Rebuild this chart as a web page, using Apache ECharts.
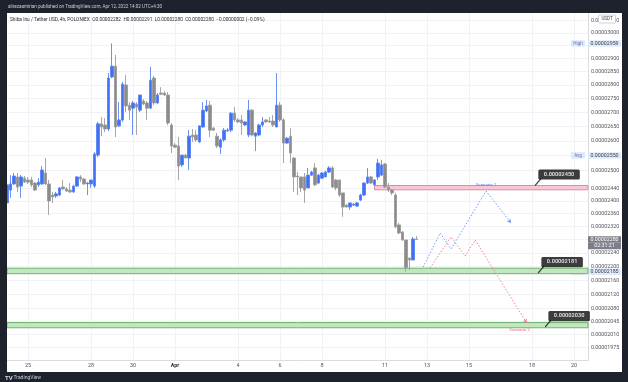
<!DOCTYPE html>
<html><head><meta charset="utf-8">
<script src="https://cdn.jsdelivr.net/npm/echarts@6/dist/echarts.min.js"></script>
<style>html,body{margin:0;padding:0;background:#1e222d;}#c{width:628px;height:382px;}</style>
</head><body><div id="c"></div>
<script>
// ---- DATA (prices in units of 1e-8 USDT, i.e. 2394 = 0.00002394) ----
const UNIT = 1e-8;
const START = '2022-03-24 00:00';   // first 4h bar
const BAR_HOURS = 4;
const opens = [
2394,2435,2455,2478,2448,2474,2468,2468,2458,2452,
2455,2491,2455,2419,2416,2419,2445,2439,2435,2429,
2448,2478,2471,2455,2455,2448,2551,2659,2655,2641,
2830,2871,2652,2673,2800,2726,2715,2730,2708,2741,
2734,2715,2826,2734,2770,2770,2763,2655,2585,2582,
2518,2551,2541,2620,2620,2596,2648,2705,2726,2644,
2616,2578,2603,2634,2637,2697,2673,2673,2655,2620,
2708,2616,2620,2655,2673,2669,2669,2648,2726,2673,
2592,2616,2541,2481,2478,2478,2442,2484,2508,2458,
2474,2478,2494,2508,2468,2468,2426,2387,2381,2387,
2384,2403,2419,2458,2478,2452,2478,2484,2521,2445,
2435,2419,2325,2303,2279,2225,2219,2282];
const closes = [
2452,2455,2481,2445,2478,2461,2461,2452,2435,2461,
2501,2455,2400,2413,2423,2442,2439,2432,2429,2448,
2478,2471,2455,2458,2468,2555,2659,2648,2641,2826,
2871,2648,2673,2803,2723,2708,2734,2719,2763,2730,
2715,2818,2734,2763,2766,2763,2662,2582,2578,2514,
2551,2541,2616,2613,2603,2652,2708,2723,2637,2637,
2582,2603,2637,2637,2697,2673,2666,2662,2666,2708,
2620,2627,2655,2666,2666,2666,2655,2726,2673,2592,
2609,2558,2478,2478,2442,2435,2484,2494,2452,2484,
2491,2494,2508,2445,2442,2419,2381,2381,2394,2390,
2394,2419,2458,2478,2458,2468,2524,2518,2445,2435,
2426,2319,2300,2279,2196,2219,2282,2280];
const lows = [
2394,2410,2452,2429,2410,2458,2455,2445,2432,2445,
2452,2452,2356,2394,2410,2416,2435,2429,2426,2426,
2445,2461,2452,2419,2442,2442,2544,2616,2630,2634,
2826,2613,2648,2666,2701,2673,2620,2620,2701,2726,
2673,2715,2726,2730,2763,2759,2655,2558,2575,2468,
2511,2541,2501,2596,2596,2592,2644,2701,2613,2634,
2575,2555,2596,2630,2630,2666,2662,2620,2652,2613,
2616,2565,2616,2648,2662,2662,2648,2648,2666,2524,
2589,2524,2429,2419,2429,2394,2442,2481,2448,2455,
2471,2478,2491,2442,2435,2413,2350,2378,2372,2384,
2381,2400,2416,2455,2455,2448,2468,2481,2442,2429,
2419,2315,2297,2276,2185,2190,2219,2280];
const highs = [
2458,2484,2491,2491,2484,2481,2478,2478,2461,2474,
2514,2541,2468,2429,2429,2445,2468,2445,2458,2452,
2481,2484,2474,2461,2468,2561,2666,2683,2679,2845,
2959,2914,2737,2811,2837,2737,2741,2737,2763,2748,
2741,2868,2834,2770,2792,2777,2774,2662,2592,2613,
2551,2555,2637,2641,2637,2652,2737,2745,2741,2648,
2627,2609,2644,2644,2701,2719,2679,2690,2669,2745,
2712,2630,2659,2683,2676,2683,2690,2845,2737,2679,
2613,2644,2544,2494,2478,2491,2508,2498,2524,2488,
2494,2498,2514,2514,2471,2468,2426,2390,2394,2394,
2397,2423,2461,2508,2481,2471,2538,2534,2524,2458,
2439,2426,2331,2306,2279,2225,2288,2291];
const AVG = 2550;
const COUNTDOWN = '02:31:21';

// price-scale tick labels (log scale) and grid levels
const yGridLevels = [3050,3000,2950,2900,2850,2800,2750,2700,2650,2600,2550,2500,2440,2400,2360,2320,2280,2240,2200,2160,2120,2080,2045,2010,1975];
const yLabelLevels = [3050,3000,2900,2850,2800,2750,2700,2650,2600,2500,2440,2400,2360,2320,2240,2200,2160,2120,2080,2045,2010,1975];
const Y_MIN = 1943, Y_MAX = 3081;
// time-scale tick labels
const xTickDates = ['2022-03-25','2022-03-28','2022-03-30','2022-04-01','2022-04-04','2022-04-06','2022-04-08','2022-04-11','2022-04-13','2022-04-15','2022-04-18','2022-04-20'];
const X_MIN = '2022-03-24 00:00', X_MAX = '2022-04-20 16:00';

// zones (support / resistance rectangles)
const zoneStart = ['2022-04-10 12:00','2022-03-24 00:00','2022-03-24 00:00'];
const zoneLow  = [2436, 2179, 2028];
const zoneHigh = [2450, 2195, 2042];
const zoneKind = ['res','sup','sup'];
// callout labels
const calloutTimes = ['2022-04-18 03:30','2022-04-18 07:00','2022-04-18 15:00'];
const calloutValues = [2450, 2181, 2030];
// scenario paths
const scen1Times = ['2022-04-12 19:30','2022-04-13 15:00','2022-04-14 03:30','2022-04-15 19:30','2022-04-17 00:00'];
const scen1Prices = [2198, 2300, 2252, 2432, 2331];
const scen2Times = ['2022-04-13 03:30','2022-04-14 03:30','2022-04-14 19:30','2022-04-15 07:00','2022-04-17 18:00'];
const scen2Prices = [2196, 2288, 2231, 2279, 2041];
const scenarioNames = ['Scenario 1','Scenario 2'];

// ---- helpers ----
function t(s){ const [d,h='00:00']=s.split(' '); const [Y,M,D]=d.split('-').map(Number); const [hh,mm]=h.split(':').map(Number); return Date.UTC(Y,M-1,D,hh,mm); }
const L = Math.log;
const fmt = v => (v*UNIT).toFixed(8);
const t0 = t(START), HOUR = 3600e3;
const FONT = 'Roboto, sans-serif';

const candleData = opens.map((o,i)=>[t0+i*BAR_HOURS*HOUR, L(o), L(closes[i]), L(lows[i]), L(highs[i])]);
const HIGH = Math.max(...highs), LOW = Math.min(...lows);
const n = opens.length;
const LAST = closes[n-1];
const lastO = opens[n-1], lastH = highs[n-1], lastL = lows[n-1], prevC = closes[n-2];
const chg = LAST - prevC;
const pct = (chg/prevC*100).toFixed(2);
const minus = '\u2212';
const chgTxt = (chg<0?minus:'+') + fmt(Math.abs(chg)) + ' (' + (chg<0?minus:'+') + Math.abs(pct).toFixed(2) + '%)';

const specials = [
  {v:HIGH, kind:'tag', tag:'High'},
  {v:AVG, kind:'tag', tag:'Avg'},
  {v:LOW, kind:'tag', tag:'Low'},
  {v:LAST, kind:'cur'}
];
const months = ['Jan','Feb','Mar','Apr','May','Jun','Jul','Aug','Sep','Oct','Nov','Dec'];

const zoneStyle = {
  res: {color:'#f8c7d4', borderColor:'#e08aa2', borderWidth:1},
  sup: {color:'#c3e6c1', borderColor:'#6cb56a', borderWidth:1}
};

const chart = echarts.init(document.getElementById('c'));
chart.setOption({
  animation:false,
  backgroundColor:'#ffffff',
  textStyle:{fontFamily:FONT},
  grid:{left:7, top:13, right:40, bottom:22, outerBoundsMode:'none', containLabel:false},
  xAxis:{
    type:'value', min:t(X_MIN), max:t(X_MAX),
    axisLine:{show:true, lineStyle:{color:'#dadce2', width:1}},
    axisTick:{show:false, customValues:xTickDates.map(d=>t(d))},
    splitLine:{show:true, lineStyle:{color:'#f0f2f6', width:1}},
    axisLabel:{
      customValues:xTickDates.map(d=>t(d)),
      fontSize:5.4, color:'#50535e', margin:3.5, fontFamily:FONT,
      formatter:(v)=>{ const d=new Date(v); return d.getUTCDate()===1 ? '{m|'+months[d.getUTCMonth()]+'}' : String(d.getUTCDate()); },
      rich:{m:{fontSize:5.4, fontWeight:'bold', color:'#2a2e39', fontFamily:FONT}}
    }
  },
  yAxis:[{
    type:'value', position:'right', min:L(Y_MIN), max:L(Y_MAX),
    axisLine:{show:true, lineStyle:{color:'#dadce2', width:1}},
    axisTick:{show:false, customValues:yGridLevels.map(L)},
    splitLine:{show:true, lineStyle:{color:'#f0f2f6', width:1}},
    axisLabel:{
      customValues:yLabelLevels.map(L),
      fontSize:5.3, color:'#50535e', margin:3, fontFamily:FONT,
      formatter:(v)=>fmt(Math.exp(v))
    }
  },{
    type:'value', position:'right', min:L(Y_MIN), max:L(Y_MAX), offset:0,
    axisLine:{show:false}, axisTick:{show:false}, splitLine:{show:false},
    axisLabel:{
      customValues:specials.map(s=>L(s.v)),
      margin:-17, fontSize:5.3, lineHeight:6.5, fontFamily:FONT,
      formatter:(v)=>{
        const p=Math.exp(v);
        const s=specials.reduce((a,b)=>Math.abs(b.v-p)<Math.abs(a.v-p)?b:a);
        if(s.kind==='cur') return '{blank| }\n{pad| }{cur|'+fmt(s.v)+'}\n{pad| }{cnt|'+COUNTDOWN+'}';
        return '{tag|'+s.tag+'}{sp| }{val|'+fmt(s.v)+'}';
      },
      rich:{
        tag:{backgroundColor:'#dfe9fb', color:'#6079a8', fontSize:4.6, width:14, height:6.5, lineHeight:6.5, align:'center', fontFamily:FONT},
        sp:{width:3, fontSize:4, lineHeight:6.5},
        val:{backgroundColor:'#dfe9fb', color:'#3b3f4b', fontSize:5.3, width:33, height:6.5, lineHeight:6.5, align:'center', fontFamily:FONT},
        blank:{fontSize:5, lineHeight:6.5, height:6.5, color:'rgba(0,0,0,0)'},
        pad:{width:17, fontSize:4, lineHeight:6.5, height:6.5, color:'rgba(0,0,0,0)'},
        cur:{backgroundColor:'#7b7e88', color:'#ffffff', fontSize:5.3, width:33, height:6.5, lineHeight:6.5, align:'center', fontFamily:FONT},
        cnt:{backgroundColor:'#7b7e88', color:'#ffffff', fontSize:5.3, width:33, height:6.5, lineHeight:6.5, align:'center', fontFamily:FONT}
      }
    }
  }],
  series:[
    { // zones
      type:'line', data:[], silent:true,
      markArea:{
        silent:true,
        data: zoneStart.map((s,i)=>[
          {coord:[t(s), L(zoneHigh[i])], itemStyle:zoneStyle[zoneKind[i]]},
          {coord:[t(X_MAX), L(zoneLow[i])]}
        ])
      }
    },
    {
      type:'candlestick', name:'SHIBUSDT', barWidth:2.8, z:3,
      encode:{x:0, y:[1,2,3,4]},
      itemStyle:{color:'#3f6ff2', color0:'#8b8b8b', borderColor:'#5a84f4', borderColor0:'#9c9c9c', borderWidth:0.9},
      data:candleData
    },
    {
      type:'line', name:scenarioNames[0], z:4, showSymbol:true, symbol:'none',
      lineStyle:{color:'#6a96f6', width:1, type:[1.4,1.8]},
      data: scen1Times.map((s,i)=>{
        const item={value:[t(s), L(scen1Prices[i])]};
        if(i===3){ item.symbol='circle'; item.symbolSize=0.5; item.itemStyle={color:'#6a96f6'};
          item.label={show:true, position:'top', distance:4, formatter:scenarioNames[0], fontSize:4.4, color:'#5b86ef', fontFamily:FONT}; }
        if(i===scen1Times.length-1){ item.symbol='arrow'; item.symbolSize=[3.5,4]; item.symbolRotate=-142; item.itemStyle={color:'#6a96f6'}; }
        return item;
      })
    },
    {
      type:'line', name:scenarioNames[1], z:4, showSymbol:true, symbol:'none',
      lineStyle:{color:'#f07c86', width:1, type:[1.4,1.8]},
      data: scen2Times.map((s,i)=>{
        const item={value:[t(s), L(scen2Prices[i])]};
        if(i===scen2Times.length-1){ item.symbol='arrow'; item.symbolSize=[3.5,4]; item.symbolRotate=-148; item.itemStyle={color:'#f07c86'};
          item.label={show:true, position:'bottom', distance:4, offset:[-6,0], formatter:scenarioNames[1], fontSize:4.4, color:'#ee6d7a', fontFamily:FONT}; }
        return item;
      })
    },
    {
      type:'scatter', z:6, silent:true,
      symbol:'path://M0,8 L8,0', symbolSize:[6,7], symbolOffset:[3,-3.5], symbolKeepAspect:false,
      itemStyle:{color:'rgba(0,0,0,0)', borderColor:'#111', borderWidth:1.2},
      label:{show:true, position:'inside', offset:[21,-7.5], formatter:(p)=>fmt(calloutValues[p.dataIndex]),
        backgroundColor:'#0b0b0b', color:'#ffffff', fontWeight:'bold', fontSize:5.6, padding:[2.2,5.5,2,5.5], borderRadius:1.5, fontFamily:FONT},
      data: calloutTimes.map((s,i)=>[t(s), L(calloutValues[i])])
    }
  ],
  graphic:[
    {type:'rect', z:100, silent:true, shape:{x:0,y:0,width:628,height:13}, style:{fill:'#1e222d'}},
    {type:'rect', z:100, silent:true, shape:{x:0,y:372,width:628,height:10}, style:{fill:'#1e222d'}},
    {type:'rect', z:100, silent:true, shape:{x:0,y:0,width:7,height:382}, style:{fill:'#1e222d'}},
    {type:'rect', z:100, silent:true, shape:{x:622,y:0,width:6,height:382}, style:{fill:'#1e222d'}},
    {type:'text', z:101, silent:true, x:8, y:7, style:{text:'alirezaamirian published on TradingView.com, Apr 12, 2022 14:02 UTC+4:30', fill:'#c9cbd1', fontSize:4.6, fontFamily:FONT, verticalAlign:'middle'}},
    {type:'text', z:101, silent:true, x:5, y:378, style:{text:'TV', fill:'#d8dae0', fontSize:6, fontWeight:'bold', fontFamily:FONT, verticalAlign:'middle'}},
    {type:'text', z:101, silent:true, x:13.5, y:378, style:{text:'TradingView', fill:'#c9cbd1', fontSize:5, fontFamily:FONT, verticalAlign:'middle'}},
    {type:'text', z:101, silent:true, x:10, y:19.5, style:{
      text:'{n|Shiba Inu / Tether USD, 4h, POLONIEX}  {k|O}{v|'+fmt(lastO)+'}  {k|H}{v|'+fmt(lastH)+'}  {k|L}{v|'+fmt(lastL)+'}  {k|C}{v|'+fmt(LAST)+'}  {v|'+chgTxt+'}',
      fontSize:4.8, fontFamily:FONT, verticalAlign:'middle', fill:'#2a2e39',
      rich:{n:{fontSize:4.8, color:'#2a2e39', fontFamily:FONT}, k:{fontSize:4.8, color:'#2a2e39', fontFamily:FONT}, v:{fontSize:4.8, color:'#6d707a', fontFamily:FONT}}
    }},
    {type:'rect', z:101, silent:true, shape:{x:598.5,y:15,width:17,height:8, r:1}, style:{fill:'#ffffff', stroke:'#c3c6ce', lineWidth:0.8}},
    {type:'text', z:102, silent:true, x:607, y:19, style:{text:'USDT', fill:'#3b3f4b', fontSize:4.5, fontFamily:FONT, align:'center', verticalAlign:'middle'}}
  ]
});
</script>
</body></html>
